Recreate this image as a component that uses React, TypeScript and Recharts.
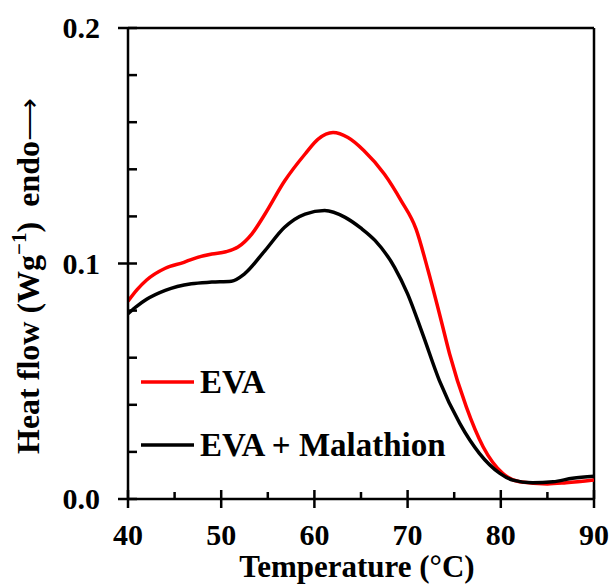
import React from "react";
import { Legend, Line, LineChart, ReferenceLine, XAxis, YAxis } from "recharts";

const evaTemp = [40, 41, 42, 44, 46, 47, 49, 50.5, 51.8, 53.3, 54.7, 56.8, 59, 60.4, 62, 63.6, 65.3, 67.5, 69.3, 70.9, 72.2, 73.6, 74.5, 76.3, 78.1, 80.2, 82, 85, 87, 90];
const evaHeat = [0.084, 0.089, 0.093, 0.098, 0.1005, 0.102, 0.104, 0.105, 0.107, 0.1126, 0.121, 0.135, 0.1465, 0.1528, 0.1556, 0.1535, 0.148, 0.138, 0.1267, 0.1147, 0.097, 0.0758, 0.0617, 0.0391, 0.0222, 0.0109, 0.0073, 0.0064, 0.0069, 0.0081];

const malTemp = [40, 41, 42, 44, 46.8, 49, 51.1, 52.5, 54.7, 56.8, 59, 61.1, 63.3, 65, 66.5, 68.6, 70, 71.6, 73.4, 75.6, 77.7, 79.9, 81.3, 83.4, 85.6, 87.7, 90];
const malHeat = [0.0787, 0.082, 0.0848, 0.0886, 0.0914, 0.0921, 0.0925, 0.0956, 0.1055, 0.1154, 0.121, 0.1225, 0.1196, 0.115, 0.1098, 0.0984, 0.0871, 0.0702, 0.0504, 0.0321, 0.0194, 0.0109, 0.008, 0.0069, 0.0073, 0.0088, 0.0097];

const xTicks = [40, 45, 50, 55, 60, 65, 70, 75, 80, 85, 90];
const yTicks = [0, 0.02, 0.04, 0.06, 0.08, 0.1, 0.12, 0.14, 0.16, 0.18, 0.2];

const FONT = "'Liberation Serif', 'Times New Roman', serif";

const evaData = evaTemp.map((t, i) => ({ t, v: evaHeat[i] }));
const malData = malTemp.map((t, i) => ({ t, v: malHeat[i] }));

function XTick({ x, y, payload }: any) {
  const major = payload.value % 10 === 0;
  return (
    <g>
      <line x1={x} x2={x} y1={major ? y - 9 : y - 7} y2={major ? y + 9 : y} stroke="#000" strokeWidth={2.5} />
      {major && (
        <text x={x} y={y + 46} textAnchor="middle" fontFamily={FONT} fontWeight="bold" fontSize={30} fill="#000">
          {payload.value}
        </text>
      )}
    </g>
  );
}

function YTick({ x, y, payload }: any) {
  const v = payload.value;
  const major = Math.abs(v * 10 - Math.round(v * 10)) < 1e-6;
  return (
    <g>
      <line x1={major ? x - 10 : x} x2={x + 9} y1={y} y2={y} stroke="#000" strokeWidth={2.5} />
      {major && (
        <text x={x - 28} y={y + 10} textAnchor="end" fontFamily={FONT} fontWeight="bold" fontSize={30} fill="#000">
          {v.toFixed(1)}
        </text>
      )}
    </g>
  );
}

function XTitle() {
  return (
    <text x={357} y={577} textAnchor="middle" fontFamily={FONT} fontWeight="bold" fontSize={31} fill="#000">
      Temperature (°C)
    </text>
  );
}

function YTitle() {
  return (
    <text transform="translate(39, 454) rotate(-90)" textAnchor="start" fontFamily={FONT} fontWeight="bold" fontSize={32} fill="#000">
      Heat flow (Wg
      <tspan fontSize={21} dy={-13}>−1</tspan>
      <tspan dy={13}>)</tspan>
      <tspan dx={15}>endo</tspan>
      <tspan fontSize={30} fontWeight="normal">⟶</tspan>
    </text>
  );
}

function LegendBox({ payload }: any) {
  return (
    <svg width={330} height={110}>
      {(payload || []).map((p: any, i: number) => (
        <g key={p.value}>
          <line x1={11} x2={64} y1={27 + i * 63} y2={27 + i * 63} stroke={p.color} strokeWidth={3.5} />
          <text x={70} y={38 + i * 63} fontFamily={FONT} fontWeight="bold" fontSize={33} fill="#000">
            {p.value}
          </text>
        </g>
      ))}
    </svg>
  );
}

export default function App() {
  return (
    <div style={{ position: "absolute", left: 0, top: 0, background: "#fff" }}>
      <LineChart width={611} height={585} margin={{ top: 28, right: 17, bottom: 26, left: 68 }}>
        <XAxis
          dataKey="t"
          type="number"
          domain={[40, 90]}
          ticks={xTicks}
          interval={0}
          height={60}
          tickSize={0}
          tickMargin={0}
          tickLine={false}
          tick={<XTick />}
          axisLine={{ stroke: "#000", strokeWidth: 2.5 }}
          allowDataOverflow
          label={<XTitle />}
        />
        <YAxis
          type="number"
          domain={[0, 0.2]}
          ticks={yTicks}
          interval={0}
          width={60}
          tickSize={0}
          tickMargin={0}
          tickLine={false}
          tick={<YTick />}
          axisLine={{ stroke: "#000", strokeWidth: 2.5 }}
          allowDataOverflow
          label={<YTitle />}
        />
        <ReferenceLine y={0.2} stroke="#000" strokeWidth={2.5} ifOverflow="extendDomain" />
        <ReferenceLine x={90} stroke="#000" strokeWidth={2.5} ifOverflow="extendDomain" />
        <Line data={evaData} dataKey="v" name="EVA" type="monotone" stroke="#ff0000" strokeWidth={3.5} dot={false} isAnimationActive={false} />
        <Line data={malData} dataKey="v" name="EVA + Malathion" type="monotone" stroke="#000000" strokeWidth={3.5} dot={false} isAnimationActive={false} />
        <Legend
          layout="horizontal"
          verticalAlign="middle"
          align="center"
          content={<LegendBox />}
          wrapperStyle={{ left: 130, top: 355, width: 330, bottom: "auto", right: "auto" }}
        />
      </LineChart>
    </div>
  );
}
